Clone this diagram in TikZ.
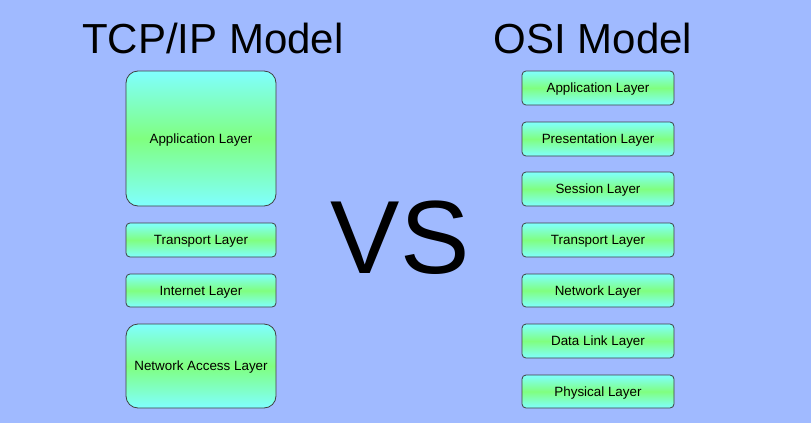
\documentclass[tikz,border=0pt]{standalone}
\usepackage{fontspec}
\setmainfont{Liberation Sans}
\begin{document}
\begin{tikzpicture}[x=1pt,y=-1pt,
  layer/.style={draw=black!75, line width=0.8pt, rounded corners=4pt,
    top color=cyan!50, bottom color=cyan!50, middle color=green!50!white,
    minimum width=150pt, inner sep=0pt, font=\fontsize{13.4}{15}\selectfont,
    text depth=-1.5pt},
  biglayer/.style={layer, rounded corners=12pt},
  title/.style={font=\fontsize{42}{46}\selectfont, inner sep=0pt}]
\fill[fill={rgb,255:red,160;green,186;blue,255}] (0,0) rectangle (811,423);
\useasboundingbox (0,0) rectangle (811,423);
\node[title] (t1) at (213,38) {TCP/IP Model};
\node[title] (t2) at (593,38) {OSI Model};
\node[font=\fontsize{104}{106}\selectfont, inner sep=0pt] (vs) at (400,238) {VS};
% TCP/IP
\node[biglayer, minimum height=135pt] (tapp) at (201,138.5) {Application Layer};
\node[layer, minimum height=34pt] (ttra) at (201,240) {Transport Layer};
\node[layer, minimum height=33pt] (tint) at (201,290.5) {Internet Layer};
\node[biglayer, minimum height=84pt] (tnet) at (201,366) {Network Access Layer};
% OSI
\node[layer, minimum width=152pt, minimum height=34pt] (oapp) at (598,88) {Application Layer};
\node[layer, minimum width=152pt, minimum height=34pt] (opre) at (598,139) {Presentation Layer};
\node[layer, minimum width=152pt, minimum height=34pt] (oses) at (598,189) {Session Layer};
\node[layer, minimum width=152pt, minimum height=34pt] (otra) at (598,240) {Transport Layer};
\node[layer, minimum width=152pt, minimum height=33pt] (onet) at (598,290.5) {Network Layer};
\node[layer, minimum width=152pt, minimum height=34pt] (odat) at (598,341) {Data Link Layer};
\node[layer, minimum width=152pt, minimum height=33pt] (ophy) at (598,391.5) {Physical Layer};
\end{tikzpicture}
\end{document}
